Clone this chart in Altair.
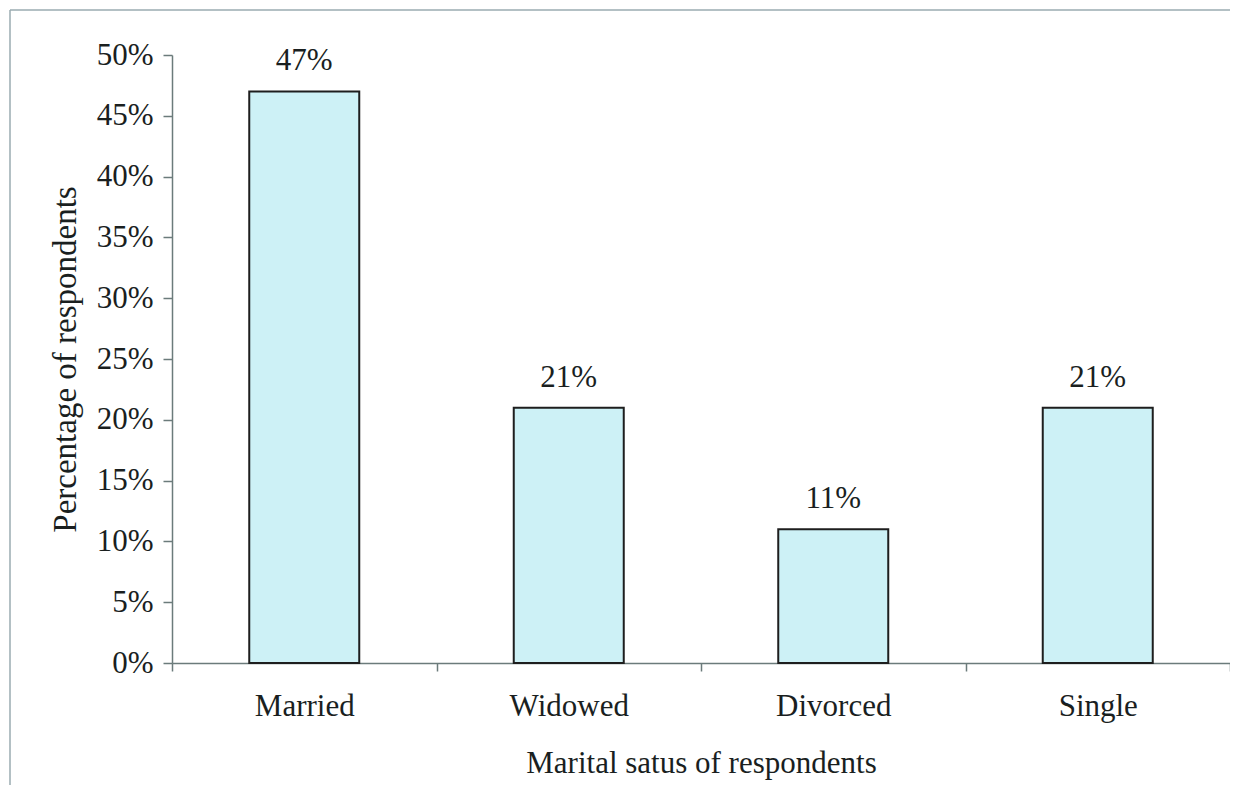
import altair as alt
import pandas as pd

categories = ["Married", "Widowed", "Divorced", "Single"]
values = [0.47, 0.21, 0.11, 0.21]

df = pd.DataFrame({"status": categories, "pct": values})

FONT = "Liberation Serif"
TXT = "#1a1f1f"

base = alt.Chart(df).encode(
    x=alt.X(
        "status:N",
        sort=categories,
        scale=alt.Scale(paddingInner=0, paddingOuter=0),
        axis=alt.Axis(
            title="Marital satus of respondents",
            labelAngle=0,
            tickBand="extent",
            tickSize=8,
            labelPadding=20,
            titlePadding=27,
        ),
    ),
    y=alt.Y(
        "pct:Q",
        scale=alt.Scale(domain=[0, 0.5]),
        axis=alt.Axis(
            title="Percentage of respondents",
            format=".0%",
            values=[i * 0.05 for i in range(11)],
            tickSize=9,
            labelPadding=10,
            titlePadding=14,
            grid=False,
        ),
    ),
)

bars = base.mark_bar(size=110, color="#cdf1f6", stroke="#1e1e1e", strokeWidth=2)
labels = base.mark_text(baseline="bottom", dy=-14, font=FONT, fontSize=31, color=TXT).encode(
    text=alt.Text("pct:Q", format=".0%")
)

# outer frame of the figure (top and left edges of the chart border)
frame_df = pd.DataFrame({"k": [0]})
frame_top = alt.Chart(frame_df).mark_rule(color="#9aabb0", strokeWidth=1.5, clip=False).encode(
    x=alt.value(-162), x2=alt.value(1058), y=alt.value(-45)
)
frame_left = alt.Chart(frame_df).mark_rule(color="#9aabb0", strokeWidth=1.5, clip=False).encode(
    x=alt.value(-162), y=alt.value(-45), y2=alt.value(730)
)

chart = (
    (bars + labels + frame_top + frame_left)
    .properties(
        width=1058,
        height=608,
        autosize=alt.AutoSizeParams(type="none"),
        padding={"left": 164, "top": 47, "right": 0, "bottom": 125},
        background="white",
    )
    .configure_view(stroke=None)
    .configure_axis(
        labelFont=FONT,
        titleFont=FONT,
        labelFontSize=31,
        titleFontSize=31,
        titleFontWeight="normal",
        labelColor=TXT,
        titleColor=TXT,
        domainColor="#6b7b7b",
        tickColor="#6b7b7b",
        domainWidth=1.5,
        tickWidth=1.5,
    )
    .configure_axisY(titleFontSize=33)
)

chart.save("out.html", embed_options={"renderer": "svg", "actions": False})
